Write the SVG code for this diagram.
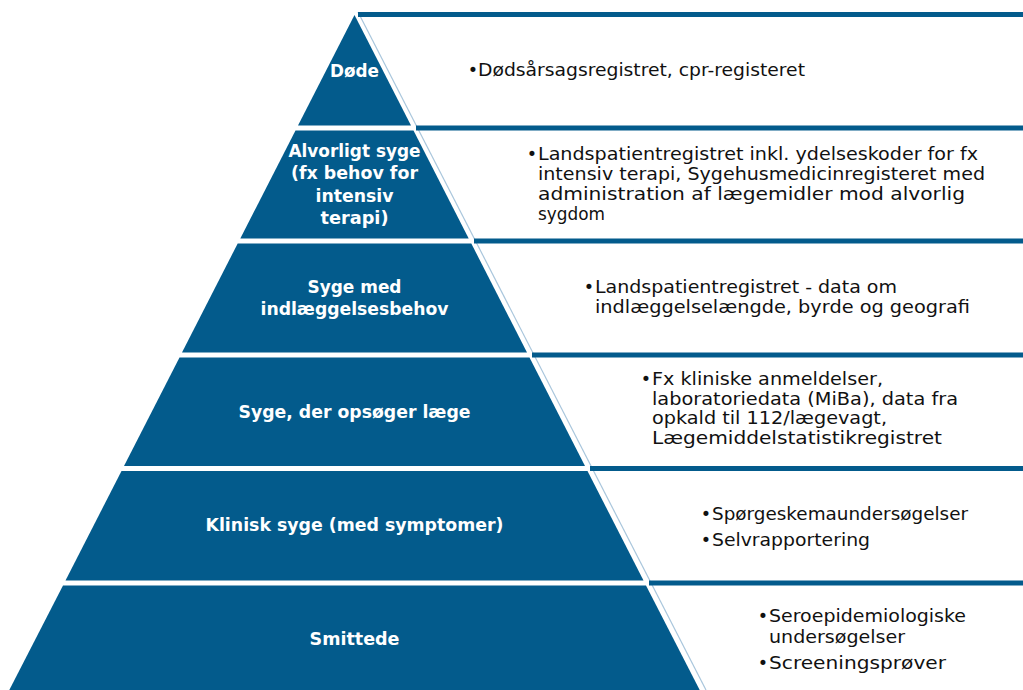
<svg xmlns="http://www.w3.org/2000/svg" width="1023" height="690" viewBox="0 0 1023 690">
<style>
.layer{fill:#035b8c}
.bar{fill:#035b8c}
.lbl{font-family:"DejaVu Sans",sans-serif;font-weight:bold;font-size:17.5px;fill:#ffffff;text-anchor:middle}
.desc{font-family:"DejaVu Sans",sans-serif;font-size:17.5px;fill:#111111}
.bul{font-family:"DejaVu Sans",sans-serif;font-size:17.5px;fill:#111111;text-anchor:middle}
</style>
<rect width="1023" height="690" fill="#ffffff"/>
<g id="connectors">
<line x1="358" y1="12" x2="706" y2="690" stroke="#a9c6dc" stroke-width="1.2"/>
<rect class="bar" x="358" y="12" width="665" height="5"/>
<rect class="bar" x="416" y="125.5" width="607" height="5"/>
<rect class="bar" x="474" y="238.5" width="549" height="5"/>
<rect class="bar" x="532" y="352.5" width="491" height="5"/>
<rect class="bar" x="590" y="466" width="433" height="5"/>
<rect class="bar" x="649" y="580.5" width="374" height="5"/>
</g>
<g id="node-doede">
<polygon class="layer" points="354.5,15 411,125.5 298,125.5"/>
<text class="lbl" x="354.5" y="77" textLength="49" lengthAdjust="spacingAndGlyphs">Døde</text>
<text class="bul" x="473" y="76">•</text>
<text class="desc" x="478" y="76" textLength="327" lengthAdjust="spacingAndGlyphs">Dødsårsagsregistret, cpr-registeret</text>
</g>
<g id="node-alvorligt">
<polygon class="layer" points="295.5,130.5 413.5,130.5 468.7,238.5 240.3,238.5"/>
<text class="lbl" x="354.5" y="157" textLength="132" lengthAdjust="spacingAndGlyphs">Alvorligt syge</text>
<text class="lbl" x="354.5" y="179" textLength="127" lengthAdjust="spacingAndGlyphs">(fx behov for</text>
<text class="lbl" x="354.5" y="202" textLength="78" lengthAdjust="spacingAndGlyphs">intensiv</text>
<text class="lbl" x="354.5" y="224" textLength="68" lengthAdjust="spacingAndGlyphs">terapi)</text>
<text class="bul" x="532" y="160">•</text>
<text class="desc" x="538" y="160" textLength="440" lengthAdjust="spacingAndGlyphs">Landspatientregistret inkl. ydelseskoder for fx</text>
<text class="desc" x="538" y="180" textLength="447" lengthAdjust="spacingAndGlyphs">intensiv terapi, Sygehusmedicinregisteret med</text>
<text class="desc" x="538" y="200" textLength="427" lengthAdjust="spacingAndGlyphs">administration af lægemidler mod alvorlig</text>
<text class="desc" x="538" y="220" textLength="67" lengthAdjust="spacingAndGlyphs">sygdom</text>
</g>
<g id="node-indlaeggelse">
<polygon class="layer" points="237.7,243.5 471.3,243.5 527,352.5 182,352.5"/>
<text class="lbl" x="354.5" y="293" textLength="94" lengthAdjust="spacingAndGlyphs">Syge med</text>
<text class="lbl" x="354.5" y="315" textLength="188" lengthAdjust="spacingAndGlyphs">indlæggelsesbehov</text>
<text class="bul" x="589" y="293">•</text>
<text class="desc" x="595" y="293" textLength="302" lengthAdjust="spacingAndGlyphs">Landspatientregistret - data om</text>
<text class="desc" x="595" y="313" textLength="375" lengthAdjust="spacingAndGlyphs">indlæggelselængde, byrde og geografi</text>
</g>
<g id="node-laege">
<polygon class="layer" points="179.5,357.5 529.5,357.5 585,466 124,466"/>
<text class="lbl" x="354.5" y="418" textLength="232" lengthAdjust="spacingAndGlyphs">Syge, der opsøger læge</text>
<text class="bul" x="646" y="385">•</text>
<text class="desc" x="652" y="385" textLength="231" lengthAdjust="spacingAndGlyphs">Fx kliniske anmeldelser,</text>
<text class="desc" x="652" y="404.5" textLength="306" lengthAdjust="spacingAndGlyphs">laboratoriedata (MiBa), data fra</text>
<text class="desc" x="652" y="424" textLength="235" lengthAdjust="spacingAndGlyphs">opkald til 112/lægevagt,</text>
<text class="desc" x="652" y="443.5" textLength="290" lengthAdjust="spacingAndGlyphs">Lægemiddelstatistikregistret</text>
</g>
<g id="node-klinisk">
<polygon class="layer" points="121.5,471 587.5,471 643.5,580.5 65.5,580.5"/>
<text class="lbl" x="354.5" y="531" textLength="298" lengthAdjust="spacingAndGlyphs">Klinisk syge (med symptomer)</text>
<text class="bul" x="706" y="520">•</text>
<text class="desc" x="712" y="520" textLength="256" lengthAdjust="spacingAndGlyphs">Spørgeskemaundersøgelser</text>
<text class="bul" x="706" y="546">•</text>
<text class="desc" x="712" y="546" textLength="158" lengthAdjust="spacingAndGlyphs">Selvrapportering</text>
</g>
<g id="node-smittede">
<polygon class="layer" points="63,585.5 646,585.5 699.7,690 9.3,690"/>
<text class="lbl" x="354.5" y="645" textLength="90" lengthAdjust="spacingAndGlyphs">Smittede</text>
<text class="bul" x="763" y="622">•</text>
<text class="desc" x="769" y="622" textLength="197" lengthAdjust="spacingAndGlyphs">Seroepidemiologiske</text>
<text class="desc" x="769" y="643" textLength="136" lengthAdjust="spacingAndGlyphs">undersøgelser</text>
<text class="bul" x="763" y="669">•</text>
<text class="desc" x="769" y="669" textLength="177" lengthAdjust="spacingAndGlyphs">Screeningsprøver</text>
</g>
</svg>
